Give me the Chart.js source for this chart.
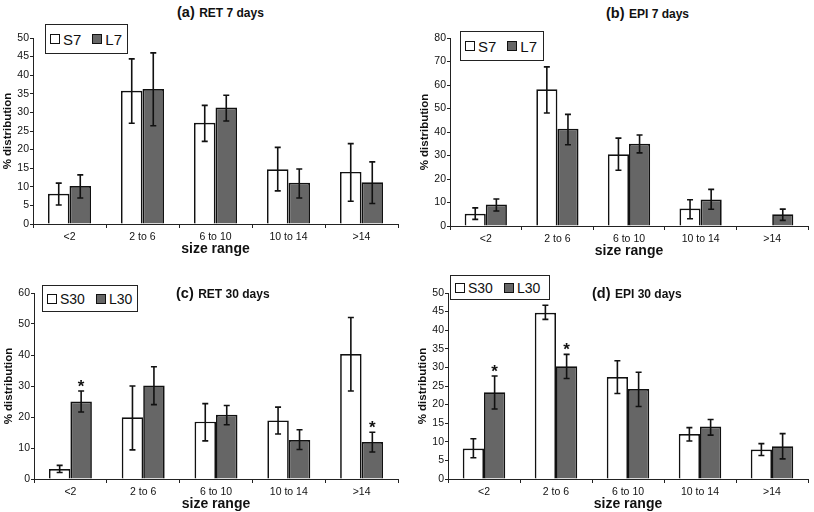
<!DOCTYPE html>
<html>
<head>
<meta charset="utf-8">
<script src="https://cdn.jsdelivr.net/npm/chart.js@4/dist/chart.umd.min.js"></script>
<style>
    body { margin: 0; width: 814px; height: 512px; position: relative; overflow: hidden; background: #fff; font-family: "Liberation Sans", Arial, sans-serif; color: #111; }
    canvas { position: absolute; }
    .title { position: absolute; font-weight: bold; white-space: nowrap; line-height: 1; }
    .title .tag { font-size: 14.5px; }
    .title .name { font-size: 12px; }
    .legend { position: absolute; box-sizing: border-box; border: 1.5px solid #222; background: #fff; display: flex; align-items: center; padding-left: 4px; white-space: nowrap; }
    .legend .sw { display: inline-block; box-sizing: border-box; width: 10px; height: 10px; border: 1.3px solid #111; margin-right: 3px; }
    .legend .item { display: flex; align-items: center; margin-right: 11px; }
</style>
</head>
<body>

<canvas id="chartA" width="405" height="230" style="left:-1px;top:30px"></canvas>
<canvas id="chartB" width="398" height="232" style="left:416px;top:30px"></canvas>
<canvas id="chartC" width="404" height="230" style="left:0px;top:285px"></canvas>
<canvas id="chartD" width="400" height="230" style="left:414px;top:285px"></canvas>

<div class="title" style="left:177px;top:4px"><span class="tag">(a)</span> <span class="name">RET 7 days</span></div>
<div class="title" style="left:606px;top:5px"><span class="tag">(b)</span> <span class="name">EPI 7 days</span></div>
<div class="title" style="left:176px;top:285px"><span class="tag">(c)</span> <span class="name">RET 30 days</span></div>
<div class="title" style="left:592px;top:285px"><span class="tag">(d)</span> <span class="name">EPI 30 days</span></div>

<div class="legend" style="left:45px;top:24px;width:83px;height:30px;font-size:15px">
    <span class="item"><span class="sw" style="background:#fff"></span>S7</span>
    <span class="item"><span class="sw" style="background:#666"></span>L7</span>
</div>
<div class="legend" style="left:460px;top:31px;width:84px;height:30px;font-size:15px">
    <span class="item"><span class="sw" style="background:#fff"></span>S7</span>
    <span class="item"><span class="sw" style="background:#666"></span>L7</span>
</div>
<div class="legend" style="left:42px;top:285px;width:96px;height:27px;font-size:14px">
    <span class="item"><span class="sw" style="background:#fff"></span>S30</span>
    <span class="item"><span class="sw" style="background:#666"></span>L30</span>
</div>
<div class="legend" style="left:450px;top:275px;width:100px;height:25px;font-size:14px">
    <span class="item"><span class="sw" style="background:#fff"></span>S30</span>
    <span class="item"><span class="sw" style="background:#666"></span>L30</span>
</div>

<script>
const sizeRanges = ['<2', '2 to 6', '6 to 10', '10 to 14', '>14'];

// (a) RET 7 days
const retS7 = [8.1, 35.8, 27.2, 14.7, 14.0];
const retL7 = [10.2, 36.3, 31.3, 11.1, 11.2];
const retS7Err = [[5.1, 11.0], [27.1, 44.4], [22.2, 31.9], [8.9, 20.6], [6.1, 21.6]];
const retL7Err = [[7.0, 13.2], [26.4, 46.0], [27.7, 34.6], [7.0, 14.8], [5.5, 16.7]];

// (b) EPI 7 days
const epiS7 = [5.2, 58.2, 30.5, 7.4, 0];
const epiL7 = [9.1, 41.4, 35.0, 11.3, 5.0];
const epiS7Err = [[2.8, 7.7], [48.1, 67.7], [23.7, 37.4], [3.1, 11.2], null];
const epiL7Err = [[6.4, 11.5], [34.6, 47.5], [31.1, 38.7], [7.1, 15.6], [2.4, 7.2]];

// (c) RET 30 days
const retS30 = [3.2, 19.9, 18.5, 18.9, 40.3];
const retL30 = [25.0, 30.2, 20.7, 12.6, 11.9];
const retS30Err = [[2.1, 4.4], [9.4, 30.0], [12.3, 24.3], [14.5, 23.2], [28.4, 52.1]];
const retL30Err = [[21.6, 28.4], [24.0, 36.2], [17.5, 23.7], [9.5, 15.9], [8.7, 15.1]];
const retL30Star = [true, false, false, false, true];

// (d) EPI 30 days
const epiS30 = [8.2, 44.7, 27.4, 12.1, 7.9];
const epiL30 = [23.3, 30.3, 24.2, 14.1, 8.8];
const epiS30Err = [[5.7, 10.8], [42.9, 46.7], [23.0, 31.8], [10.2, 13.8], [6.3, 9.5]];
const epiL30Err = [[18.8, 27.7], [27.0, 33.5], [19.5, 28.7], [11.8, 16.0], [5.4, 12.2]];
const epiL30Star = [true, true, false, false, false];

const fontFamily = '"Liberation Sans", Arial, sans-serif';

// draws the error bars (and the * marks) on top of the bars
const errorBars = {
    id: 'errorBars',
    afterDatasetsDraw(chart) {
        const ctx = chart.ctx;
        const yScale = chart.scales.y;
        chart.data.datasets.forEach((ds, di) => {
            const meta = chart.getDatasetMeta(di);
            (ds.errors || []).forEach((e, i) => {
                if (!e) return;
                const bar = meta.data[i];
                const top = yScale.getPixelForValue(e[1]);
                const bottom = yScale.getPixelForValue(e[0]);
                ctx.save();
                ctx.strokeStyle = '#111';
                ctx.lineWidth = 1.6;
                ctx.beginPath();
                ctx.moveTo(bar.x, top);
                ctx.lineTo(bar.x, bottom);
                ctx.moveTo(bar.x - 3, top);
                ctx.lineTo(bar.x + 3, top);
                ctx.moveTo(bar.x - 3, bottom);
                ctx.lineTo(bar.x + 3, bottom);
                ctx.stroke();
                if (ds.stars && ds.stars[i]) {
                    ctx.fillStyle = '#111';
                    ctx.font = 'bold 17px ' + fontFamily;
                    ctx.textAlign = 'center';
                    ctx.textBaseline = 'alphabetic';
                    ctx.fillText('*', bar.x, top + 1);
                }
                ctx.restore();
            });
        });
    }
};

function makePanel(id, sData, lData, sErr, lErr, lStars, yMax, yStep) {
    new Chart(document.getElementById(id), {
        type: 'bar',
        data: {
            labels: sizeRanges,
            datasets: [
                { data: sData, errors: sErr, backgroundColor: '#ffffff', borderColor: '#111', borderWidth: 1.7 },
                { data: lData, errors: lErr, stars: lStars, backgroundColor: '#666666', borderColor: '#111', borderWidth: 1.7 }
            ]
        },
        options: {
            responsive: false,
            animation: false,
            events: [],
            layout: { padding: { top: 8, right: 6, left: 0, bottom: 0 } },
            datasets: { bar: { categoryPercentage: 0.59, barPercentage: 1 } },
            plugins: { legend: { display: false }, title: { display: false }, tooltip: { enabled: false } },
            scales: {
                x: {
                    grid: { drawOnChartArea: false, tickLength: 4, color: '#222' },
                    border: { color: '#222' },
                    ticks: { color: '#111', font: { size: 10.5, family: fontFamily }, padding: 3, maxRotation: 0 },
                    title: { display: true, text: 'size range', color: '#111', font: { size: 14, weight: 'bold', family: fontFamily }, padding: { top: 0, bottom: 2 } },
                    afterFit(scale) { scale.height = 36; }
                },
                y: {
                    min: 0,
                    max: yMax,
                    grid: { drawOnChartArea: false, tickLength: 3, color: '#222' },
                    border: { color: '#222' },
                    ticks: { stepSize: yStep, color: '#111', font: { size: 10.5, family: fontFamily }, padding: 1 },
                    title: { display: true, text: '% distribution', color: '#111', font: { size: 11.5, weight: 'bold', family: fontFamily }, padding: { top: 2, bottom: 0 } },
                    afterFit(scale) { scale.width = 34; }
                }
            }
        },
        plugins: [errorBars]
    });
}

makePanel('chartA', retS7, retL7, retS7Err, retL7Err, null, 50, 5);
makePanel('chartB', epiS7, epiL7, epiS7Err, epiL7Err, null, 80, 10);
makePanel('chartC', retS30, retL30, retS30Err, retL30Err, retL30Star, 60, 10);
makePanel('chartD', epiS30, epiL30, epiS30Err, epiL30Err, epiL30Star, 50, 5);
</script>
</body>
</html>
